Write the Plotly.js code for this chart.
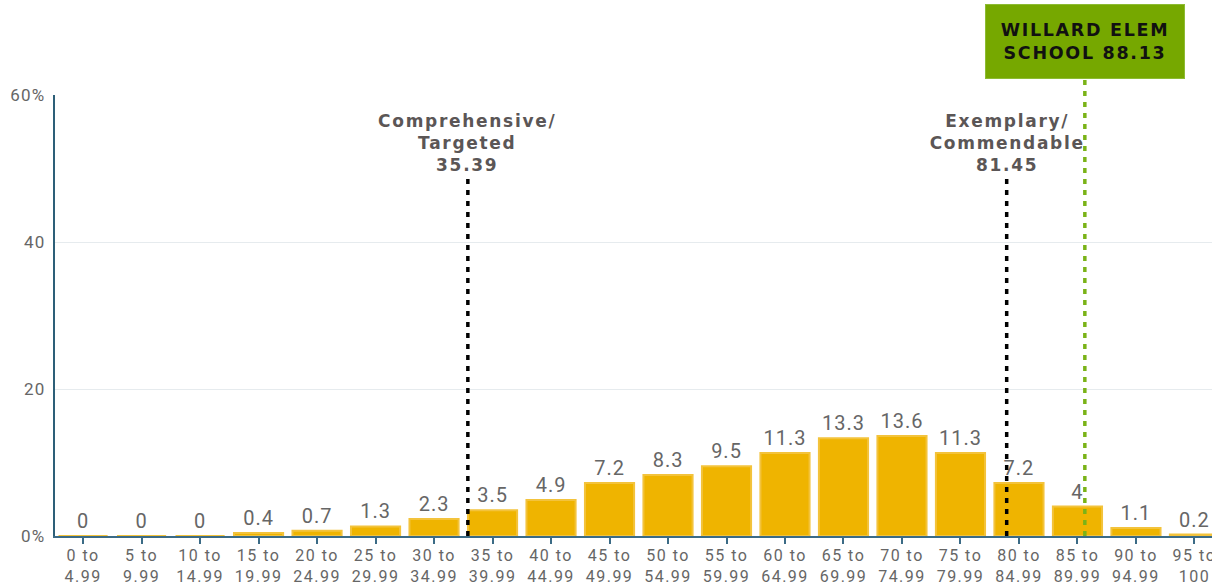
<!DOCTYPE html>
<html>
<head>
<meta charset="utf-8">
<script src="https://cdn.plot.ly/plotly-3.0.1.min.js"></script>
<style>
html,body{margin:0;padding:0;background:#fff;}
#chart{width:1212px;height:583px;}
#chart .xtick text {letter-spacing: 1.5px;}
#chart .ytick text {letter-spacing: 1.3px;}
#chart .bartext {letter-spacing: 1px;}
#chart .annotation-text {letter-spacing: 1.7px;}
</style>
</head>
<body>
<div id="chart"></div>
<script>
const binStarts = [0,5,10,15,20,25,30,35,40,45,50,55,60,65,70,75,80,85,90,95];
const binLabels = ["0 to<br>4.99","5 to<br>9.99","10 to<br>14.99","15 to<br>19.99","20 to<br>24.99","25 to<br>29.99","30 to<br>34.99","35 to<br>39.99","40 to<br>44.99","45 to<br>49.99","50 to<br>54.99","55 to<br>59.99","60 to<br>64.99","65 to<br>69.99","70 to<br>74.99","75 to<br>79.99","80 to<br>84.99","85 to<br>89.99","90 to<br>94.99","95 to<br>100"];
const percents = [0,0,0,0.4,0.7,1.3,2.3,3.5,4.9,7.2,8.3,9.5,11.3,13.3,13.6,11.3,7.2,4,1.1,0.2];
const thresholdNames = ["Comprehensive/<br>Targeted", "Exemplary/<br>Commendable"];
const thresholdValues = [35.39, 81.45];
const schoolName = "WILLARD ELEM<br>SCHOOL";
const schoolScore = 88.13;
const yTickVals = [0,20,40,60];
const yTickText = ["0%","20","40","60%"];

const binCenters = binStarts.map(s => s + 2.5);

const trace = {
  type: 'bar',
  x: binCenters,
  y: percents,
  width: 4.2,
  text: percents.map(v => String(v)),
  textposition: 'outside',
  cliponaxis: false,
  textfont: {family: 'Roboto, sans-serif', size: 20, color: '#666666'},
  marker: {color: '#EFB400', line: {color: '#F3C33C', width: 2}},
  hoverinfo: 'none'
};

const shapes = thresholdValues.map(v => ({
  type: 'line', xref: 'x', yref: 'y', x0: v, x1: v, y0: 0, y1: 48.6,
  line: {color: '#000000', width: 3.5, dash: '5px,6px'}
}));
shapes.push({
  type: 'line', xref: 'x', yref: 'paper', x0: schoolScore, x1: schoolScore, y0: 0, y1: 1.034,
  line: {color: '#7AB317', width: 3.5, dash: '5px,6px'}
});

const annotations = thresholdValues.map((v, i) => ({
  x: v, y: 48.9, xref: 'x', yref: 'y', xanchor: 'center', yanchor: 'bottom',
  text: '<b>' + thresholdNames[i] + '<br>' + v + '</b>', showarrow: false,
  font: {family: 'DejaVu Sans, sans-serif', size: 17, color: '#5b5656'}, align: 'center'
}));
annotations.push({
  x: schoolScore, y: 1.036, xref: 'x', yref: 'paper', xanchor: 'center', yanchor: 'bottom',
  text: '<b>' + schoolName + ' ' + schoolScore + '</b>', showarrow: false,
  font: {family: 'DejaVu Sans, sans-serif', size: 17.5, color: '#111111'}, align: 'center',
  bgcolor: '#76A800', bordercolor: '#8DBB33', borderwidth: 1, width: 196, height: 71, borderpad: 1
});

const layout = {
  width: 1212, height: 583,
  margin: {l: 55, r: 0, t: 95, b: 47},
  paper_bgcolor: '#ffffff', plot_bgcolor: '#ffffff',
  showlegend: false,
  bargap: 0,
  xaxis: {
    type: 'linear', range: [0.1, 99.0],
    tickvals: binCenters, ticktext: binLabels,
    ticks: 'outside', ticklen: 6, tickcolor: '#3b6b86', tickwidth: 2,
    showline: true, linecolor: '#3b6b86', linewidth: 2,
    showgrid: false, zeroline: false,
    ticklabeloverflow: 'allow', ticklabelstandoff: -2,
    tickfont: {family: 'Roboto, sans-serif', size: 16, color: '#666666'}
  },
  yaxis: {
    range: [0, 60], tickvals: yTickVals, ticktext: yTickText,
    showline: true, linecolor: '#2d5f78', linewidth: 2,
    showgrid: true, gridcolor: '#e6ebee', gridwidth: 1, zeroline: false,
    ticks: '', ticklabelstandoff: 4,
    tickfont: {family: 'Roboto, sans-serif', size: 17, color: '#666666'}
  },
  shapes: shapes,
  annotations: annotations
};

Plotly.newPlot('chart', [trace], layout, {displayModeBar: false, staticPlot: true});
</script>
</body>
</html>
